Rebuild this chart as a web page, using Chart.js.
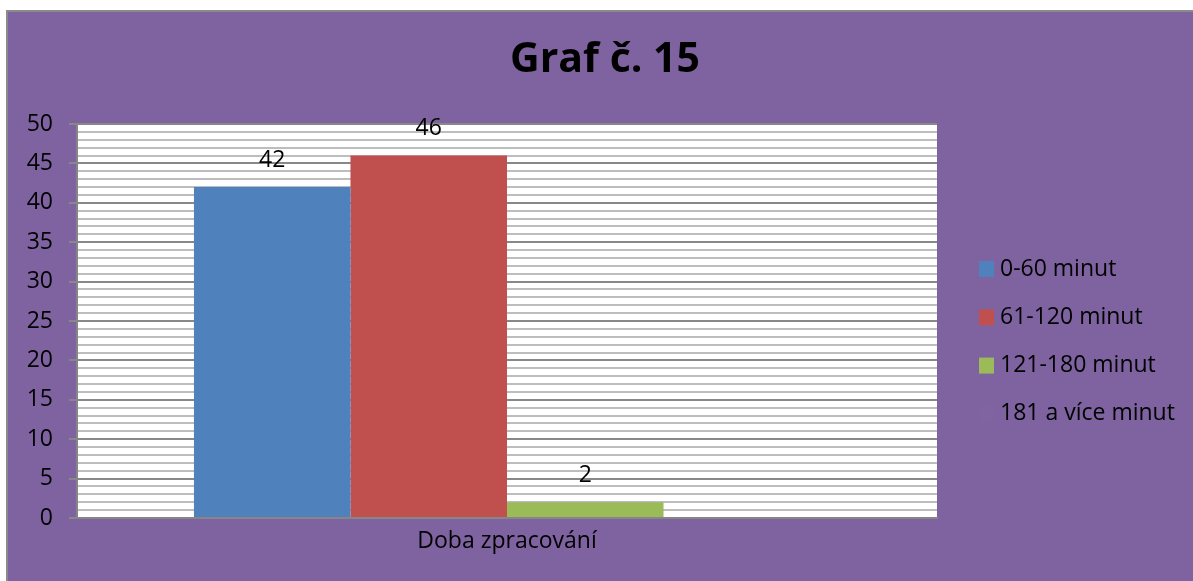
<!DOCTYPE html>
<html>
<head>
<meta charset="utf-8">
<script src="https://cdn.jsdelivr.net/npm/chart.js@4.4.1/dist/chart.umd.min.js"></script>
<style>
  html, body { margin: 0; padding: 0; background: #ffffff; }
  #wrap { position: absolute; left: 0; top: 0; width: 1193px; height: 581px; }
</style>
</head>
<body>
<div id="wrap"><canvas id="c" width="1193" height="581"></canvas></div>
<script>
const titleText = 'Graf č. 15';
const categories = ['Doba zpracování'];
const seriesLabels = ['0-60 minut', '61-120 minut', '121-180 minut', '181 a více minut'];
const seriesValues = [[42], [46], [2], [0]];
const seriesColors = ['#4F81BD', '#C0504D', '#9BBB59', '#8064A2'];
const yTickLabels = [0, 5, 10, 15, 20, 25, 30, 35, 40, 45, 50];

const BG = '#7F63A1';
const FONT = "'Open Sans', 'Liberation Sans', sans-serif";

const bgPlugin = {
  id: 'bgPlugin',
  beforeDraw(chart) {
    const ctx = chart.ctx;
    ctx.save();
    ctx.fillStyle = '#ffffff';
    ctx.fillRect(0, 0, chart.width, chart.height);
    ctx.fillStyle = BG;
    ctx.fillRect(7, 11, chart.width - 7, chart.height - 11);
    ctx.strokeStyle = '#8a8a8a';
    ctx.lineWidth = 2;
    ctx.beginPath();
    ctx.moveTo(7, chart.height);
    ctx.lineTo(7, 11);
    ctx.lineTo(chart.width, 11);
    ctx.stroke();
    const a = chart.chartArea;
    ctx.fillStyle = '#ffffff';
    ctx.fillRect(a.left, a.top, a.right - a.left, a.bottom - a.top);
    ctx.restore();
  },
  afterDraw(chart) {
    const ctx = chart.ctx;
    ctx.save();
    // title
    ctx.fillStyle = '#000000';
    ctx.font = "bold 41px " + FONT;
    ctx.textAlign = 'center';
    ctx.textBaseline = 'middle';
    ctx.fillText(titleText, 605, 60);
    // data labels
    ctx.font = "23px " + FONT;
    chart.data.datasets.forEach((ds, i) => {
      const meta = chart.getDatasetMeta(i);
      meta.data.forEach((bar, j) => {
        const v = ds.data[j];
        if (v > 0) {
          ctx.fillText(String(v), bar.x, bar.y - 27);
        }
      });
    });
    // legend
    ctx.textAlign = 'left';
    chart.data.datasets.forEach((ds, i) => {
      const y = 269 + i * 48.3;
      ctx.fillStyle = ds.backgroundColor;
      ctx.fillRect(979, y - 8, 15, 16);
      ctx.fillStyle = '#000000';
      ctx.fillText(ds.label, 1000, y);
    });
    ctx.restore();
  }
};

new Chart(document.getElementById('c'), {
  type: 'bar',
  data: {
    labels: categories,
    datasets: seriesLabels.map((l, i) => ({
      label: l,
      data: seriesValues[i],
      backgroundColor: seriesColors[i],
      borderWidth: 0,
      categoryPercentage: 0.728,
      barPercentage: 1.0
    }))
  },
  options: {
    responsive: false,
    animation: false,
    layout: { padding: { top: 124, left: 0, right: 256, bottom: 0 } },
    plugins: {
      legend: { display: false },
      title: { display: false },
      tooltip: { enabled: false }
    },
    scales: {
      x: {
        grid: { display: false, drawTicks: true, tickLength: 8 },
        border: { display: true, color: '#868686', width: 2 },
        ticks: { color: '#000000', font: { family: FONT, size: 23 }, padding: 2 },
        afterFit(scale) { scale.height = 63; }
      },
      y: {
        min: 0,
        max: 50,
        grid: {
          color: (c) => (c.tick && c.tick.value % 5 === 0) ? '#888888' : '#bdbdbd',
          lineWidth: 2,
          tickLength: 8,
          tickColor: (c) => (c.tick && c.tick.value % 5 === 0) ? '#888888' : 'rgba(0,0,0,0)'
        },
        border: { display: true, color: '#868686', width: 2 },
        ticks: {
          stepSize: 1,
          autoSkip: false,
          color: '#000000',
          font: { family: FONT, size: 23 },
          padding: 16,
          callback: (v) => yTickLabels.includes(v) ? String(v) : ''
        },
        afterFit(scale) { scale.width = 77; }
      }
    }
  },
  plugins: [bgPlugin]
});
</script>
</body>
</html>
